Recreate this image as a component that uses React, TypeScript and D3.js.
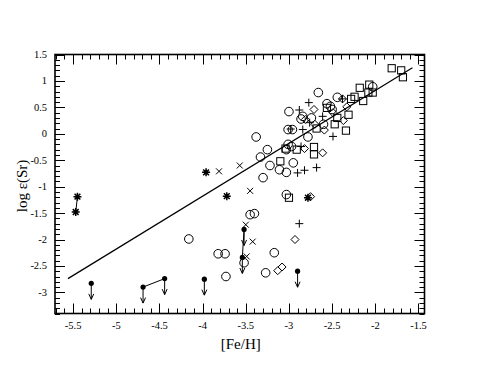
import React from "react";
import * as d3 from "d3";

// ---- data ----
const squareX = [-1.81, -1.70, -1.68, -2.07, -2.18, -2.08, -2.03, -2.24, -2.28, -2.14, -2.31, -2.44, -2.34, -2.56, -2.68, -2.47, -2.71, -2.71, -2.91, -3.04, -3.10, -3.00];
const squareY = [1.24, 1.20, 1.07, 0.93, 0.87, 0.78, 0.78, 0.70, 0.66, 0.62, 0.36, 0.30, 0.06, 0.49, 0.10, 0.18, -0.25, -0.39, -0.30, -0.28, -0.52, -1.21];

const circleX = [-2.03, -2.44, -2.66, -3.00, -2.56, -2.52, -2.50, -2.84, -2.86, -2.74, -2.60, -3.01, -2.96, -2.78, -3.01, -2.97, -3.03, -2.95, -3.38, -3.33, -3.25, -3.22, -3.30, -3.11, -3.03, -3.03, -3.45, -3.40, -4.16, -3.82, -3.74, -3.52, -3.17, -3.27, -3.73];
const circleY = [0.89, 0.69, 0.78, 0.42, 0.57, 0.52, 0.46, 0.33, 0.28, 0.30, 0.18, 0.08, 0.08, -0.06, -0.20, -0.24, -0.30, -0.55, -0.06, -0.44, -0.30, -0.60, -0.83, -0.68, -0.73, -1.15, -1.53, -1.51, -1.99, -2.27, -2.27, -2.44, -2.25, -2.63, -2.70];

const diamondX = [-2.33, -2.37, -2.71, -2.81, -2.70, -2.59, -2.82, -2.61, -2.75, -2.93, -3.13, -3.08, -2.38, -2.49];
const diamondY = [0.51, 0.25, 0.46, 0.27, 0.18, 0.07, -0.28, -0.36, -1.19, -2.00, -2.59, -2.52, 0.66, 0.40];

const plusX = [-2.77, -2.88, -2.61, -2.76, -2.98, -2.84, -2.49, -2.90, -2.82, -2.68, -2.88, -2.38, -2.86];
const plusY = [0.59, 0.45, 0.33, 0.21, 0.09, 0.08, -0.05, -0.74, -0.69, -0.64, -1.70, 0.66, -0.24];

const crossX = [-3.81, -3.57, -3.45, -3.50, -3.42, -3.49];
const crossY = [-0.71, -0.60, -1.08, -1.72, -2.04, -2.32];

const starX = [-3.96, -3.72, -2.78, -5.45, -5.47];
const starY = [-0.73, -1.18, -1.21, -1.19, -1.48];
const starLinks = [[3, 4]];

const limitX = [-5.29, -4.69, -4.44, -3.98, -3.52, -3.54, -2.90];
const limitY = [-2.83, -2.90, -2.74, -2.75, -1.81, -2.34, -2.60];
const limitLinks = [[1, 2], [4, 5]];

const fitX = [-5.56, -1.57];
const fitY = [-2.74, 1.25];

const xTicks = [-5.5, -5, -4.5, -4, -3.5, -3, -2.5, -2, -1.5];
const yTicks = [-3, -2.5, -2, -1.5, -1, -0.5, 0, 0.5, 1, 1.5];

const xLabel = "[Fe/H]";
const yLabel = "log ε(Sr)";

export default function App() {
  const W = 479, H = 370;
  const L = 55, R = 424.5, T = 54.5, B = 313.5;
  const x = d3.scaleLinear().domain([-5.71, -1.43]).range([L, R]);
  const y = d3.scaleLinear().domain([-3.4, 1.5]).range([B, T]);
  const font = "'Liberation Serif', 'Times New Roman', serif";
  const sw = 1;

  const minorX = d3.range(-57, -14).map((v) => v / 10).filter((v) => v >= -5.71 && v <= -1.43);
  const minorY = d3.range(-34, 16).map((v) => v / 10);
  const isMajor = (v: number) => Math.abs(v * 2 - Math.round(v * 2)) < 1e-6;

  const line = d3.line<[number, number]>().x((d) => x(d[0])).y((d) => y(d[1]));
  const fitPts: [number, number][] = fitX.map((v, i) => [v, fitY[i]]);

  const arrowLen = 16;

  return (
    <svg width={W} height={H} style={{ position: "absolute", left: 0, top: 0, background: "#fff" }} fontFamily={font}>
      <rect x={0} y={0} width={W} height={H} fill="#fff" />
      {/* ticks */}
      <g stroke="#000" strokeWidth={1}>
        {minorX.map((v, i) => {
          const len = isMajor(v) ? 10 : 5;
          const px = Math.round(x(v)) + 0.5;
          return (
            <g key={"xt" + i}>
              <line x1={px} x2={px} y1={B} y2={B - len} />
              <line x1={px} x2={px} y1={T} y2={T + len} />
            </g>
          );
        })}
        {minorY.map((v, i) => {
          const len = isMajor(v) ? 10 : 5;
          const py = Math.round(y(v)) + 0.5;
          return (
            <g key={"yt" + i}>
              <line x1={L} x2={L + len} y1={py} y2={py} />
              <line x1={R} x2={R - len} y1={py} y2={py} />
            </g>
          );
        })}
      </g>
      {/* tick labels */}
      <g fontSize={10.5} fill="#000">
        {xTicks.map((v) => (
          <text key={"xl" + v} x={x(v)} y={B + 15} textAnchor="middle">{String(v)}</text>
        ))}
        {yTicks.map((v) => (
          <text key={"yl" + v} x={L - 8} y={y(v) + 3.5} textAnchor="end">{String(v)}</text>
        ))}
      </g>
      <text x={(L + R) / 2 + 1} y={349} fontSize={15} textAnchor="middle">{xLabel}</text>
      <text transform={`translate(27,${(T + B) / 2 + 2}) rotate(-90)`} fontSize={15} textAnchor="middle">{yLabel}</text>

      {/* fit line */}
      <path d={line(fitPts) || ""} fill="none" stroke="#000" strokeWidth={1.2} />

      {/* markers */}
      <g fill="none" stroke="#000" strokeWidth={sw}>
        {squareX.map((v, i) => (
          <rect key={"s" + i} x={x(v) - 3.6} y={y(squareY[i]) - 3.6} width={7.2} height={7.2} />
        ))}
        {circleX.map((v, i) => (
          <circle key={"c" + i} cx={x(v)} cy={y(circleY[i])} r={4.3} />
        ))}
        {diamondX.map((v, i) => {
          const cx = x(v), cy = y(diamondY[i]), s = 4;
          return <path key={"d" + i} d={`M${cx},${cy - s}L${cx + s},${cy}L${cx},${cy + s}L${cx - s},${cy}Z`} />;
        })}
        {plusX.map((v, i) => {
          const cx = x(v), cy = y(plusY[i]), s = 4;
          return <path key={"p" + i} d={`M${cx - s},${cy}H${cx + s}M${cx},${cy - s}V${cy + s}`} />;
        })}
        {crossX.map((v, i) => {
          const cx = x(v), cy = y(crossY[i]), s = 3;
          return <path key={"x" + i} d={`M${cx - s},${cy - s}L${cx + s},${cy + s}M${cx - s},${cy + s}L${cx + s},${cy - s}`} />;
        })}
        {starLinks.map(([a, b], i) => (
          <line key={"sl" + i} x1={x(starX[a])} y1={y(starY[a])} x2={x(starX[b])} y2={y(starY[b])} />
        ))}
        {starX.map((v, i) => {
          const cx = x(v), cy = y(starY[i]), s = 4, d = 2.9;
          return (
            <path key={"a" + i} strokeWidth={1.5}
              d={`M${cx - s},${cy}H${cx + s}M${cx},${cy - s}V${cy + s}M${cx - d},${cy - d}L${cx + d},${cy + d}M${cx - d},${cy + d}L${cx + d},${cy - d}`} />
          );
        })}
        {limitLinks.map(([a, b], i) => (
          <line key={"ll" + i} x1={x(limitX[a])} y1={y(limitY[a])} x2={x(limitX[b])} y2={y(limitY[b])} />
        ))}
        {limitX.map((v, i) => {
          const cx = x(v), cy = y(limitY[i]);
          const ey = cy + arrowLen;
          return (
            <g key={"u" + i}>
              <path d={`M${cx},${cy}V${ey}M${cx - 2.5},${ey - 5.5}L${cx},${ey}L${cx + 2.5},${ey - 5.5}`} />
              <circle cx={cx} cy={cy} r={2.6} fill="#000" stroke="none" />
            </g>
          );
        })}
      </g>

      {/* frame */}
      <rect x={L} y={T} width={R - L} height={B - T} fill="none" stroke="#000" strokeWidth={1.6} />
    </svg>
  );
}
